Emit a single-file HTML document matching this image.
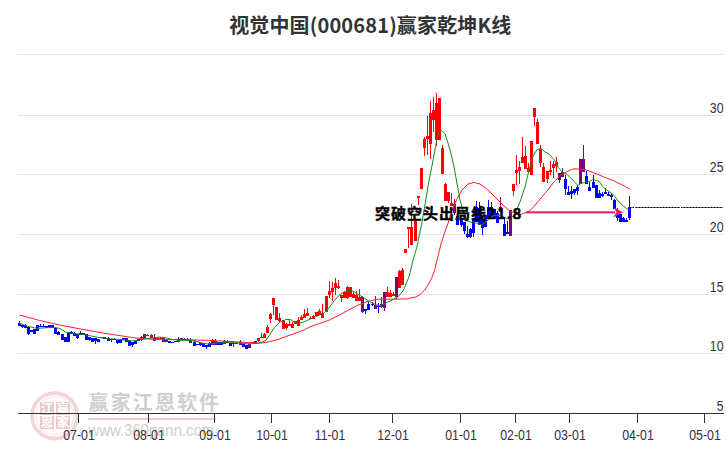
<!DOCTYPE html>
<html><head><meta charset="utf-8"><title>视觉中国(000681)赢家乾坤K线</title>
<style>
html,body{margin:0;padding:0;background:#fff;width:726px;height:450px;overflow:hidden}
svg{display:block}
.t{font-family:"Liberation Sans","Noto Sans CJK SC",sans-serif}
</style></head><body>
<svg width="726" height="450" viewBox="0 0 726 450">
<rect width="726" height="450" fill="#fff"/>
<!-- watermark -->
<g opacity="1">
<circle cx="54.7" cy="415.8" r="22.7" fill="none" stroke="#f0d6d6" stroke-width="3.8"/>
<circle cx="54.7" cy="415.8" r="19" fill="none" stroke="#f4e2e2" stroke-width="1"/>
<rect x="40" y="402" width="14" height="13" fill="#ebc9c9"/>
<rect x="56" y="402" width="14" height="13" fill="#ebc9c9"/>
<rect x="40" y="416" width="14" height="13" fill="#ebc9c9"/>
<rect x="56" y="416" width="14" height="13" fill="#ebc9c9"/>
<g font-family="Noto Sans CJK SC, sans-serif" font-size="12.5" fill="#fff" text-anchor="middle" font-weight="bold">
<text x="47" y="413">江</text><text x="63" y="413">赢</text><text x="47" y="427">恩</text><text x="63" y="427">家</text>
</g>
<text x="88.6" y="409.6" letter-spacing="2.1" font-family="Noto Sans CJK SC, sans-serif" font-weight="bold" font-size="20" fill="#d3cece">赢家江恩软件</text>
<rect x="88" y="418" width="128" height="2" fill="#ebcfcf"/>
<text transform="translate(88.5,435.6) scale(0.93,1)" font-family="Liberation Sans, sans-serif" font-size="16" fill="#cdcdcd">www.360gann.com</text>
</g>
<!-- grid -->
<g fill="#e3e3e3">
<rect x="18" y="54" width="706" height="1"/><rect x="18" y="115" width="706" height="1"/><rect x="18" y="174" width="706" height="1"/><rect x="18" y="234" width="706" height="1"/><rect x="18" y="294" width="706" height="1"/><rect x="18" y="353" width="706" height="1"/>
</g>
<!-- candles -->
<g shape-rendering="crispEdges">
<path fill="#0000ff" d="M18 323h3v3h-3zM19 321h1v2h-1zM21 325h3v2h-3zM22 327h1v1h-1zM24 325h3v3h-3zM25 324h1v1h-1zM27 327h3v7h-3zM28 334h1v1h-1zM30 330h3v2h-3zM33 329h3v5h-3zM36 325h3v6h-3zM39 326h3v1h-3zM40 324h1v2h-1zM42 326h3v1h-3zM43 324h1v2h-1zM45 326h3v2h-3zM48 325h3v3h-3zM51 325h3v3h-3zM54 328h3v6h-3zM57 332h3v3h-3zM58 331h1v1h-1zM61 334h3v6h-3zM64 337h3v5h-3zM67 332h3v10h-3zM70 332h3v2h-3zM71 331h1v1h-1zM73 333h3v3h-3zM74 332h1v1h-1zM76 334h3v4h-3zM77 338h1v1h-1zM79 333h3v2h-3zM80 331h1v2h-1zM82 333h3v2h-3zM85 334h3v6h-3zM88 337h3v3h-3zM89 340h1v1h-1zM91 338h3v4h-3zM94 338h3v3h-3zM95 341h1v3h-1zM97 339h3v3h-3zM100 337h3v1h-3zM103 337h3v2h-3zM107 338h3v3h-3zM108 337h1v1h-1zM110 339h3v1h-3zM111 340h1v2h-1zM113 339h3v1h-3zM114 338h1v1h-1zM116 340h3v3h-3zM117 343h1v1h-1zM119 339h3v4h-3zM122 338h3v2h-3zM125 338h3v4h-3zM128 341h3v5h-3zM131 342h3v3h-3zM132 345h1v2h-1zM134 341h3v3h-3zM135 340h1v1h-1zM137 339h3v2h-3zM168 341h3v2h-3zM171 342h3v1h-3zM174 341h3v1h-3zM193 342h3v4h-3zM194 340h1v2h-1zM196 344h3v1h-3zM199 343h3v2h-3zM200 345h1v1h-1zM202 343h3v4h-3zM205 345h3v2h-3zM206 347h1v2h-1zM208 343h3v4h-3zM209 342h1v1h-1zM217 342h3v3h-3zM220 342h3v3h-3zM229 343h3v3h-3zM242 344h3v3h-3zM245 345h3v4h-3zM364 309h3v2h-3zM365 311h1v3h-1zM367 304h3v6h-3zM368 302h1v2h-1zM371 304h3v1h-3zM372 302h1v2h-1zM372 305h1v1h-1zM377 306h3v1h-3zM378 303h1v3h-1zM378 307h1v6h-1zM456 216h3v9h-3zM460 219h3v6h-3zM461 225h1v2h-1zM463 222h3v9h-3zM464 231h1v3h-1zM466 234h3v3h-3zM467 226h1v8h-1zM467 237h1v1h-1zM469 229h3v8h-3zM470 228h1v1h-1zM470 237h1v1h-1zM472 219h3v14h-3zM473 233h1v4h-1zM475 207h3v15h-3zM476 201h1v6h-1zM478 208h3v17h-3zM479 202h1v6h-1zM481 219h3v9h-3zM482 228h1v7h-1zM484 215h3v12h-3zM487 207h3v12h-3zM488 200h1v7h-1zM490 207h3v8h-3zM491 202h1v5h-1zM493 209h3v10h-3zM496 213h3v10h-3zM497 211h1v2h-1zM503 224h3v12h-3zM504 217h1v7h-1zM506 232h3v2h-3zM507 221h1v11h-1zM564 179h3v10h-3zM565 175h1v4h-1zM565 189h1v6h-1zM567 192h3v3h-3zM568 186h1v6h-1zM570 191h3v3h-3zM571 186h1v5h-1zM571 194h1v5h-1zM573 189h3v4h-3zM574 193h1v2h-1zM576 187h3v4h-3zM577 185h1v2h-1zM577 191h1v4h-1zM585 176h3v8h-3zM586 171h1v5h-1zM588 187h3v4h-3zM589 182h1v5h-1zM592 182h3v6h-3zM593 175h1v7h-1zM595 185h3v13h-3zM598 193h3v5h-3zM599 190h1v3h-1zM601 194h3v2h-3zM602 192h1v2h-1zM602 196h1v1h-1zM604 192h3v2h-3zM605 188h1v4h-1zM607 194h3v2h-3zM608 192h1v2h-1zM610 195h3v2h-3zM611 193h1v2h-1zM611 197h1v3h-1zM613 200h3v9h-3zM614 199h1v1h-1zM616 214h3v4h-3zM617 208h1v6h-1zM617 218h1v3h-1zM619 214h3v8h-3zM622 218h3v4h-3zM623 217h1v1h-1zM625 220h3v2h-3zM626 218h1v2h-1zM628 207h3v11h-3zM629 196h1v11h-1zM629 218h1v2h-1z"/>
<path fill="#800080" d="M140 337h3v3h-3zM141 336h1v1h-1zM141 340h1v1h-1zM143 334h3v5h-3zM153 338h3v3h-3zM154 334h1v4h-1zM162 338h3v4h-3zM165 339h3v3h-3zM177 339h3v3h-3zM178 337h1v2h-1zM180 338h3v2h-3zM183 339h3v1h-3zM184 338h1v1h-1zM186 339h3v1h-3zM187 338h1v1h-1zM189 340h3v3h-3zM190 338h1v2h-1zM211 341h3v4h-3zM212 339h1v2h-1zM214 341h3v4h-3zM215 339h1v2h-1zM223 341h3v3h-3zM224 340h1v1h-1zM226 341h3v2h-3zM227 340h1v1h-1zM232 343h3v1h-3zM233 341h1v2h-1zM233 344h1v3h-1zM235 343h3v1h-3zM239 342h3v3h-3zM240 340h1v2h-1zM248 344h3v4h-3zM254 341h3v2h-3zM361 297h3v15h-3zM362 296h1v1h-1zM362 312h1v1h-1zM374 305h3v4h-3zM375 296h1v9h-1zM380 304h3v3h-3zM381 297h1v7h-1zM381 307h1v1h-1zM383 292h3v16h-3zM384 308h1v3h-1zM395 277h3v20h-3zM396 297h1v2h-1zM453 204h3v9h-3zM454 199h1v5h-1zM454 213h1v2h-1zM499 207h3v5h-3zM500 197h1v10h-1zM509 210h3v26h-3zM558 173h3v7h-3zM559 180h1v3h-1zM561 172h3v5h-3zM562 168h1v4h-1zM579 159h3v25h-3zM582 159h3v13h-3zM583 145h1v14h-1z"/>
<path fill="#ff0000" d="M146 335h3v1h-3zM147 334h1v1h-1zM150 335h3v3h-3zM151 334h1v1h-1zM156 338h3v1h-3zM159 338h3v1h-3zM160 337h1v1h-1zM251 342h3v1h-3zM257 338h3v3h-3zM258 341h1v1h-1zM260 337h3v1h-3zM261 333h1v4h-1zM263 334h3v4h-3zM264 333h1v1h-1zM266 327h3v6h-3zM267 325h1v2h-1zM269 314h3v5h-3zM270 313h1v1h-1zM270 319h1v4h-1zM272 298h3v7h-3zM273 305h1v10h-1zM275 307h3v13h-3zM278 318h3v3h-3zM279 313h1v5h-1zM279 321h1v1h-1zM282 320h3v9h-3zM285 324h3v4h-3zM286 323h1v1h-1zM286 328h1v2h-1zM288 324h3v2h-3zM289 319h1v5h-1zM291 324h3v4h-3zM292 322h1v2h-1zM294 321h3v3h-3zM297 320h3v6h-3zM298 317h1v3h-1zM300 317h3v3h-3zM301 315h1v2h-1zM303 314h3v4h-3zM304 309h1v5h-1zM306 313h3v3h-3zM307 308h1v5h-1zM309 318h3v1h-3zM310 316h1v2h-1zM312 316h3v3h-3zM313 315h1v1h-1zM315 312h3v4h-3zM318 311h3v4h-3zM319 309h1v2h-1zM321 313h3v5h-3zM322 304h1v9h-1zM325 296h3v16h-3zM328 291h3v4h-3zM329 281h1v10h-1zM329 295h1v3h-1zM331 288h3v4h-3zM332 282h1v6h-1zM332 292h1v9h-1zM334 283h3v5h-3zM335 278h1v5h-1zM335 288h1v7h-1zM337 286h3v2h-3zM338 280h1v6h-1zM338 288h1v1h-1zM340 295h3v3h-3zM341 298h1v4h-1zM343 292h3v6h-3zM346 287h3v11h-3zM347 286h1v1h-1zM347 298h1v1h-1zM349 287h3v10h-3zM352 294h3v4h-3zM353 291h1v3h-1zM355 295h3v6h-3zM356 291h1v4h-1zM358 297h3v4h-3zM359 289h1v8h-1zM386 292h3v5h-3zM387 287h1v5h-1zM389 293h3v4h-3zM390 290h1v3h-1zM392 294h3v2h-3zM393 292h1v2h-1zM398 271h3v17h-3zM399 270h1v1h-1zM401 270h3v15h-3zM402 268h1v2h-1zM404 249h3v4h-3zM407 227h3v2h-3zM408 229h1v19h-1zM410 227h3v18h-3zM411 204h1v23h-1zM414 221h3v20h-3zM417 196h3v2h-3zM418 198h1v7h-1zM420 168h3v21h-3zM423 139h3v9h-3zM424 137h1v2h-1zM424 148h1v8h-1zM426 136h3v3h-3zM427 116h1v20h-1zM427 139h1v16h-1zM429 113h3v31h-3zM430 101h1v12h-1zM430 144h1v15h-1zM432 110h3v10h-3zM433 97h1v13h-1zM433 120h1v12h-1zM435 103h3v37h-3zM436 93h1v10h-1zM436 140h1v6h-1zM438 98h3v42h-3zM441 148h3v26h-3zM442 145h1v3h-1zM444 184h3v17h-3zM445 183h1v1h-1zM447 192h3v9h-3zM448 201h1v2h-1zM450 203h3v3h-3zM451 193h1v10h-1zM512 184h3v7h-3zM513 191h1v5h-1zM515 170h3v3h-3zM516 155h1v15h-1zM516 173h1v12h-1zM518 167h3v4h-3zM519 161h1v6h-1zM519 171h1v13h-1zM521 157h3v6h-3zM522 137h1v20h-1zM524 156h3v13h-3zM525 146h1v10h-1zM527 168h3v4h-3zM528 163h1v5h-1zM530 141h3v34h-3zM533 108h3v9h-3zM534 117h1v9h-1zM536 122h3v22h-3zM537 119h1v3h-1zM539 149h3v14h-3zM540 145h1v4h-1zM540 163h1v4h-1zM542 167h3v15h-3zM543 163h1v4h-1zM546 171h3v8h-3zM547 179h1v4h-1zM549 170h3v2h-3zM550 161h1v9h-1zM550 172h1v3h-1zM552 164h3v4h-3zM553 161h1v3h-1zM553 168h1v10h-1zM555 162h3v4h-3zM556 157h1v5h-1zM556 166h1v6h-1z"/>

</g>
<!-- MA lines -->
<polyline fill="none" stroke="#ff2020" stroke-width="1" points="19.3,314.9 39.8,320.5 60,325.1 84.8,329.8 109.6,334.1 134.4,337.8 149.6,339.2 162,339.5 174.4,339.5 190,339.8 209.8,340.4 234.6,341.7 247,342.5 254.8,343.2 262,342.9 270.9,341.5 278,339.5 285.8,336.6 295,333.3 304.4,329.8 310,326.8 319.6,323.4 329.3,320.1 338.9,315.3 348.6,309.9 358.2,305.1 367.9,301.3 377.5,299.3 381.7,299 390.7,299.3 398,299.1 406.7,298.8 415.6,297 420,294.6 424.4,290.3 428,285 431.6,278.3 434.5,270.5 436.9,260.6 441.3,242.8 444.5,233 447.5,225 451.3,212 456.7,199.6 462,190 468,184 474,182.4 480,184 488,190 496,198 504,206 510,211 518,214.5 522,214 526,212.5 530,210.7 536.1,204 542.2,196.7 548.3,189.3 554.4,181.4 560.6,175.3 566.7,171.6 571.6,169.5 575,168.8 581.1,169.2 586.7,170 592.2,172.2 597.8,174.4 603.3,176.7 608.9,178.9 614.4,181.1 620,183.9 625.6,186.7 630,189.4"/>
<polyline fill="none" stroke="#1a8c1a" stroke-width="1" points="18.7,323 27.4,326.3 34.8,327.9 39.8,328.2 52.2,327.3 57.1,327.9 60,328.5 66.2,332.3 72.4,333.5 84.8,334.7 97.2,337.2 109.6,338.8 122,339.7 131.9,340.9 136.9,340.3 146.8,338.5 152,338 159.5,337 167,338 172,339.5 179.3,340.4 190,340.4 194.9,341 201.1,342.9 207.3,343.9 213.5,343.3 222.2,342.9 234.6,342.5 247,343.8 258.5,343.4 266,340.3 270.9,332.9 274.6,327.3 279.6,322.3 285.8,319.5 290.7,319.5 294.5,322.3 298.2,323.6 304.4,321.7 310,319.1 315.8,316.7 324.5,312.8 329.3,307.5 334.1,300.8 338.9,295.5 344.7,291.4 348.7,290 352.7,291 359.2,295 364,297.9 369.8,301.8 375.6,304.6 380,305.8 383.6,304.1 390.7,300.6 397.8,297 403.1,290.8 408.4,278.3 409.4,275.5 413.3,258.9 416.7,247.8 419.4,234.4 421.7,224.4 425.2,203.4 428.8,181.7 431.7,167.2 434.8,150.8 437.1,138.3 439.4,131.8 441.8,130.6 444.9,133.7 448,143 451.1,153.9 454.2,167.9 457.3,185 460,200 462.9,210.2 467.3,221 472.7,222.7 476,223 482,225 488,220 494,215 502,216 508,219 514,216 520,202 525,187 529,170 533,156 537,149.6 541,148.4 545,152 549,154 554.4,160 558.1,167.3 561.8,171.6 566.7,174.1 570,177.2 574.4,181.7 577.8,185.6 581.1,183.3 585.6,182.2 590,181.1 593.3,179.4 596.7,180.6 599.4,181.7 603.3,187.2 606.7,190 611.1,192.8 614.4,196.1 618.9,201.7 623.3,206.1 627.8,209.4 630,210.6"/>
<!-- arrow -->
<rect x="526" y="211.35" width="89" height="2" fill="#e8186c"/>
<path d="M613.5 207.3 L623 212.35 L613 217.8 L616.5 212.35 Z" fill="#e8186c"/>
<!-- dashed -->
<g shape-rendering="crispEdges"><path fill="#5a5a5a" d="M631 207h3v1h-3zM635 207h45v1h-45zM681 207h42v1h-42z"/>
<path fill="#000" d="M633 207h1v1h-1zM636 207h1v1h-1zM639 207h1v1h-1zM642 207h1v1h-1zM645 207h1v1h-1zM648 207h1v1h-1zM651 207h1v1h-1zM654 207h1v1h-1zM657 207h1v1h-1zM660 207h1v1h-1zM663 207h1v1h-1zM666 207h1v1h-1zM669 207h1v1h-1zM672 207h1v1h-1zM675 207h1v1h-1zM678 207h1v1h-1zM681 207h1v1h-1zM684 207h1v1h-1zM687 207h1v1h-1zM690 207h1v1h-1zM693 207h1v1h-1zM696 207h1v1h-1zM699 207h1v1h-1zM702 207h1v1h-1zM705 207h1v1h-1zM708 207h1v1h-1zM711 207h1v1h-1zM714 207h1v1h-1zM717 207h1v1h-1zM720 207h1v1h-1z"/></g>
<!-- axis -->
<rect x="18" y="413" width="706" height="1" fill="#333"/>
<g fill="#333">
<rect x="78" y="414" width="1" height="9"/><rect x="148" y="414" width="1" height="9"/><rect x="214" y="414" width="1" height="9"/><rect x="271" y="414" width="1" height="9"/><rect x="329" y="414" width="1" height="9"/><rect x="392" y="414" width="1" height="9"/><rect x="460" y="414" width="1" height="9"/><rect x="515" y="414" width="1" height="9"/><rect x="569" y="414" width="1" height="9"/><rect x="637" y="414" width="1" height="9"/><rect x="704" y="414" width="1" height="9"/>
</g>
<g class="t" font-size="14" fill="#333" text-anchor="middle">
<text transform="translate(79,439.5) scale(0.88,1)">07-01</text><text transform="translate(149,439.5) scale(0.88,1)">08-01</text><text transform="translate(215,439.5) scale(0.88,1)">09-01</text><text transform="translate(272,439.5) scale(0.88,1)">10-01</text><text transform="translate(330,439.5) scale(0.88,1)">11-01</text><text transform="translate(393,439.5) scale(0.88,1)">12-01</text><text transform="translate(461,439.5) scale(0.88,1)">01-01</text><text transform="translate(516,439.5) scale(0.88,1)">02-01</text><text transform="translate(570,439.5) scale(0.88,1)">03-01</text><text transform="translate(638,439.5) scale(0.88,1)">04-01</text><text transform="translate(705,439.5) scale(0.88,1)">05-01</text>
</g>
<g class="t" font-size="14" fill="#333" text-anchor="end">
<text transform="translate(723.5,112.5) scale(0.88,1)">30</text><text transform="translate(723.5,171.5) scale(0.88,1)">25</text><text transform="translate(723.5,231.5) scale(0.88,1)">20</text><text transform="translate(723.5,291.5) scale(0.88,1)">15</text><text transform="translate(723.5,350.5) scale(0.88,1)">10</text><text transform="translate(723.5,410.5) scale(0.88,1)">5</text>
</g>
<!-- title -->
<text x="370.3" y="33.1" text-anchor="middle" letter-spacing="0.15" font-family="Noto Sans CJK SC, sans-serif" font-weight="bold" font-size="20" fill="#333">视觉中国(000681)赢家乾坤K线</text>
<!-- annotation -->
<text x="375" y="218.6" letter-spacing="1" font-family="Noto Sans CJK SC, sans-serif" font-weight="bold" font-size="15" fill="#000" stroke="#000" stroke-width="0.45">突破空头出局线21.8</text>
</svg>
</body></html>
